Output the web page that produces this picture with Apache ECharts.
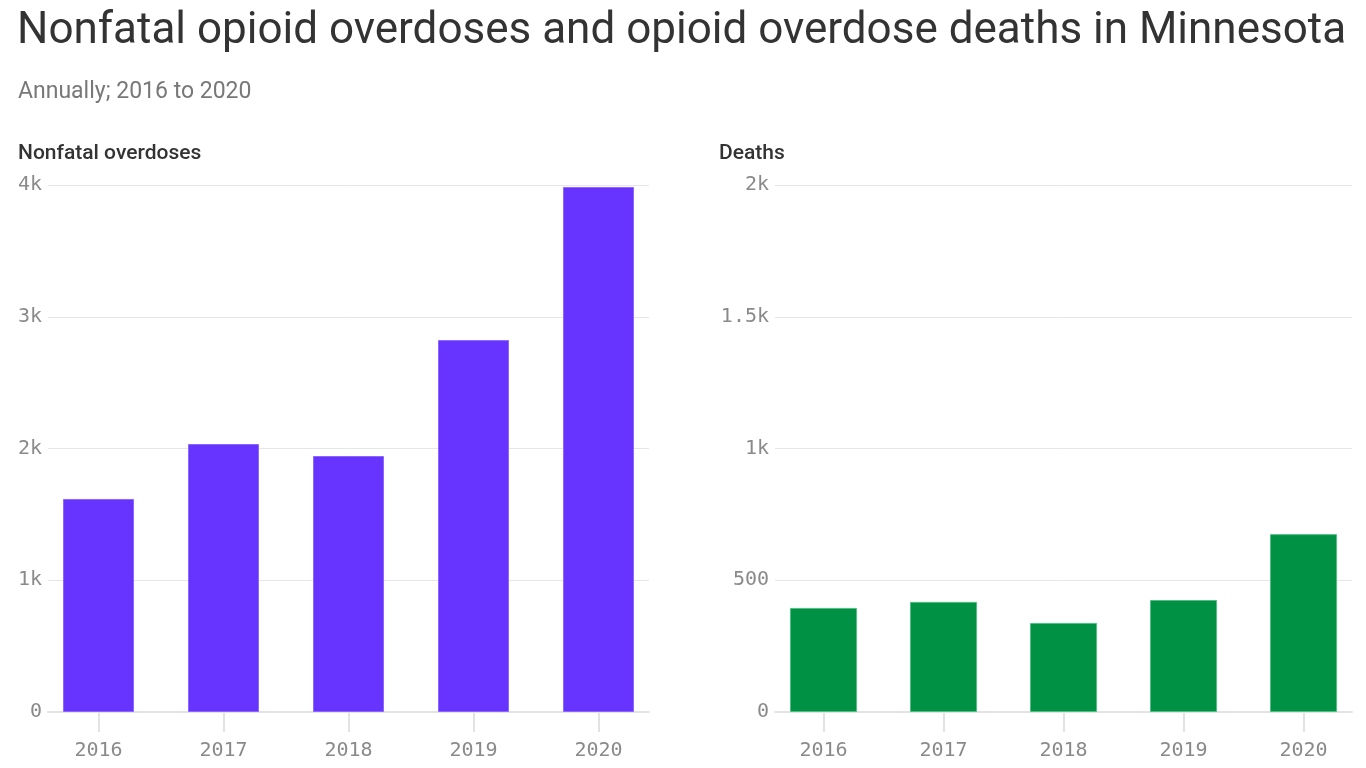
<!DOCTYPE html>
<html>
<head>
<meta charset="utf-8">
<style>
  html, body { margin: 0; padding: 0; background: #ffffff; }
  #chart { width: 1366px; height: 768px; }
</style>
<script src="https://cdn.jsdelivr.net/npm/echarts@6/dist/echarts.min.js"></script>
</head>
<body>
<div id="chart"></div>
<script>
const years = [2016, 2017, 2018, 2019, 2020];
const nonfatal = [1617, 2034, 1943, 2823, 3985];
const deaths = [395, 418, 338, 425, 675];
const nonfatalTicks = [0, 1000, 2000, 3000, 4000];
const deathTicks = [0, 500, 1000, 1500, 2000];

const titleText = 'Nonfatal opioid overdoses and opioid overdose deaths in Minnesota';
const subtitleText = 'Annually; 2016 to 2020';
const panelTitles = ['Nonfatal overdoses', 'Deaths'];

const MONO = '"DejaVu Sans Mono", monospace';
const SANS = 'Roboto, "Noto Sans", sans-serif';

function kFormat(v) {
  if (v === 0) return '0';
  if (v >= 1000) return (v / 1000) + 'k';
  return String(v);
}

function xAxisCfg(gridIndex) {
  return {
    type: 'value', gridIndex: gridIndex,
    min: 2015.596, max: 2020.404,
    splitLine: { show: false },
    axisLine: { show: true, lineStyle: { color: '#e3e3e3', width: 2 } },
    axisTick: { show: true, customValues: years, length: 20, lineStyle: { color: '#e3e3e3', width: 2 } },
    axisLabel: { customValues: years, formatter: v => String(v), color: '#8a8a8a', fontFamily: MONO, fontSize: 20, margin: 29 }
  };
}
function yAxisCfg(gridIndex, ticks) {
  return {
    type: 'value', gridIndex: gridIndex,
    min: ticks[0], max: ticks[ticks.length - 1], interval: ticks[1] - ticks[0],
    axisLine: { show: false }, axisTick: { show: false },
    splitLine: { show: true, lineStyle: { color: '#e6e6e6', width: 1 } },
    axisLabel: { formatter: kFormat, color: '#8a8a8a', fontFamily: MONO, fontSize: 20, margin: 6, padding: [6, 0, 0, 0] }
  };
}

const chart = echarts.init(document.getElementById('chart'), null, { renderer: 'canvas' });
chart.setOption({
  animation: false,
  backgroundColor: '#ffffff',
  title: [
    { text: titleText, left: 12, top: 5, textStyle: { fontFamily: SANS, fontSize: 44, fontWeight: 'normal', color: '#333333' } },
    { text: subtitleText, left: 13, top: 76, textStyle: { fontFamily: SANS, fontSize: 23, fontWeight: 'normal', color: '#787878' } },
    { text: panelTitles[0], left: 13, top: 138, textStyle: { fontFamily: SANS, fontSize: 21, fontWeight: 500, color: '#333333' } },
    { text: panelTitles[1], left: 714, top: 138, textStyle: { fontFamily: SANS, fontSize: 21, fontWeight: 500, color: '#333333' } }
  ],
  grid: [
    { left: 48, width: 601, top: 185, bottom: 56 },
    { left: 775, width: 577, top: 185, bottom: 56 }
  ],
  xAxis: [xAxisCfg(0), xAxisCfg(1)],
  yAxis: [yAxisCfg(0, nonfatalTicks), yAxisCfg(1, deathTicks)],
  series: [
    {
      type: 'bar', xAxisIndex: 0, yAxisIndex: 0, barWidth: 71,
      data: years.map((y, i) => [y, nonfatal[i]]),
      itemStyle: { color: '#6633ff', borderColor: '#8c66ff', borderWidth: 1 }
    },
    {
      type: 'bar', xAxisIndex: 1, yAxisIndex: 1, barWidth: 67,
      data: years.map((y, i) => [y, deaths[i]]),
      itemStyle: { color: '#009144', borderColor: '#4fbf84', borderWidth: 1 }
    }
  ]
});
</script>
</body>
</html>
